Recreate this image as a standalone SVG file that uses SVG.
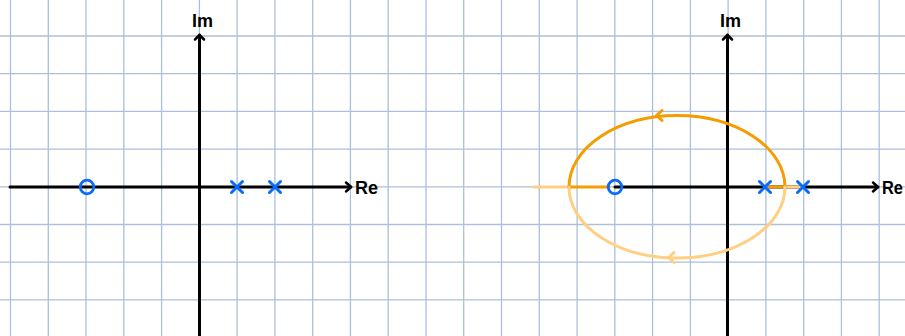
<svg xmlns="http://www.w3.org/2000/svg" width="905" height="336" viewBox="0 0 905 336">
<defs>
<style>
.grid line{stroke:#aebfda;stroke-width:1.3}
.axis{stroke:#000;stroke-width:3;fill:none;stroke-linecap:round}
.head{stroke:#000;stroke-width:2.5;fill:none;stroke-linecap:round;stroke-linejoin:round}
.lbl{font-family:"Liberation Sans",Arial,sans-serif;font-weight:bold;font-size:18px;fill:#000}
.zero{stroke:#0a6cf5;stroke-width:2.8;fill:none}
.pole{stroke:#0a6cf5;stroke-width:3;fill:none;stroke-linecap:round}
.dark{stroke:#f59c00;stroke-width:3;fill:none;stroke-linecap:round;stroke-linejoin:round}
.light{stroke:#ffd084;stroke-width:3;fill:none;stroke-linecap:round;stroke-linejoin:round}
</style>
</defs>
<rect width="905" height="336" fill="#fff"/>
<g class="grid">
<line x1="10.5" y1="0" x2="10.5" y2="336"/><line x1="48.3" y1="0" x2="48.3" y2="336"/><line x1="86" y1="0" x2="86" y2="336"/><line x1="123.8" y1="0" x2="123.8" y2="336"/><line x1="161.6" y1="0" x2="161.6" y2="336"/><line x1="199.4" y1="0" x2="199.4" y2="336"/><line x1="237.1" y1="0" x2="237.1" y2="336"/><line x1="274.9" y1="0" x2="274.9" y2="336"/><line x1="312.7" y1="0" x2="312.7" y2="336"/><line x1="350.4" y1="0" x2="350.4" y2="336"/><line x1="388.2" y1="0" x2="388.2" y2="336"/><line x1="426" y1="0" x2="426" y2="336"/><line x1="463.7" y1="0" x2="463.7" y2="336"/><line x1="501.5" y1="0" x2="501.5" y2="336"/><line x1="539.3" y1="0" x2="539.3" y2="336"/><line x1="577.1" y1="0" x2="577.1" y2="336"/><line x1="614.8" y1="0" x2="614.8" y2="336"/><line x1="652.6" y1="0" x2="652.6" y2="336"/><line x1="690.4" y1="0" x2="690.4" y2="336"/><line x1="728.1" y1="0" x2="728.1" y2="336"/><line x1="765.9" y1="0" x2="765.9" y2="336"/><line x1="803.7" y1="0" x2="803.7" y2="336"/><line x1="841.4" y1="0" x2="841.4" y2="336"/><line x1="879.2" y1="0" x2="879.2" y2="336"/>
<line x1="0" y1="36" x2="905" y2="36"/><line x1="0" y1="73.7" x2="905" y2="73.7"/><line x1="0" y1="111.4" x2="905" y2="111.4"/><line x1="0" y1="149.1" x2="905" y2="149.1"/><line x1="0" y1="186.8" x2="905" y2="186.8"/><line x1="0" y1="224.5" x2="905" y2="224.5"/><line x1="0" y1="262.2" x2="905" y2="262.2"/><line x1="0" y1="299.9" x2="905" y2="299.9"/>
</g>
<g id="left-axes">
<line class="axis" x1="10" y1="187" x2="351" y2="187"/>
<polyline class="head" points="346,182.5 351,187 346,191.5"/>
<line class="axis" x1="199.5" y1="336" x2="199.5" y2="35"/>
<polyline class="head" points="195,39.5 199.5,35 204,39.5"/>
<text class="lbl" x="355" y="194">Re</text>
<text class="lbl" x="192" y="27">Im</text>
</g>
<g id="left-zero"><circle class="zero" cx="87" cy="187" r="6.8"/></g>
<g id="left-pole1"><path class="pole" d="M231.5,181.5L242.5,192.5M242.5,181.5L231.5,192.5"/></g>
<g id="left-pole2"><path class="pole" d="M269.5,181.5L280.5,192.5M280.5,181.5L269.5,192.5"/></g>
<g id="right-axes">
<line class="axis" x1="615" y1="187" x2="878" y2="187"/>
<polyline class="head" points="873,182.5 878,187 873,191.5"/>
<line class="axis" x1="727.5" y1="336" x2="727.5" y2="35"/>
<polyline class="head" points="723,39.5 727.5,35 732,39.5"/>
<text class="lbl" x="882" y="194" textLength="21" lengthAdjust="spacingAndGlyphs">Re</text>
<text class="lbl" x="720" y="27">Im</text>
</g>
<g id="locus">
<line class="light" x1="534" y1="187" x2="569" y2="187"/>
<line class="dark" x1="569" y1="187" x2="609" y2="187"/>
<line class="dark" x1="765" y1="187" x2="785" y2="187"/>
<line class="light" x1="785" y1="187" x2="803" y2="187"/>
<path class="dark" d="M569,187 A108,71.5 0 0 1 785,187"/>
<path class="light" d="M569,187 A108,71 0 0 0 785,187"/>
<polyline class="dark" points="662,110.5 656.5,115.5 662,120.5"/>
<polyline class="light" points="674,252.5 668.5,257.5 674,262.5"/>
</g>
<g id="right-zero"><circle class="zero" cx="615" cy="187" r="6.8"/></g>
<g id="right-pole1"><path class="pole" d="M759.5,181.5L770.5,192.5M770.5,181.5L759.5,192.5"/></g>
<g id="right-pole2"><path class="pole" d="M797.5,181.5L808.5,192.5M808.5,181.5L797.5,192.5"/></g>
</svg>
